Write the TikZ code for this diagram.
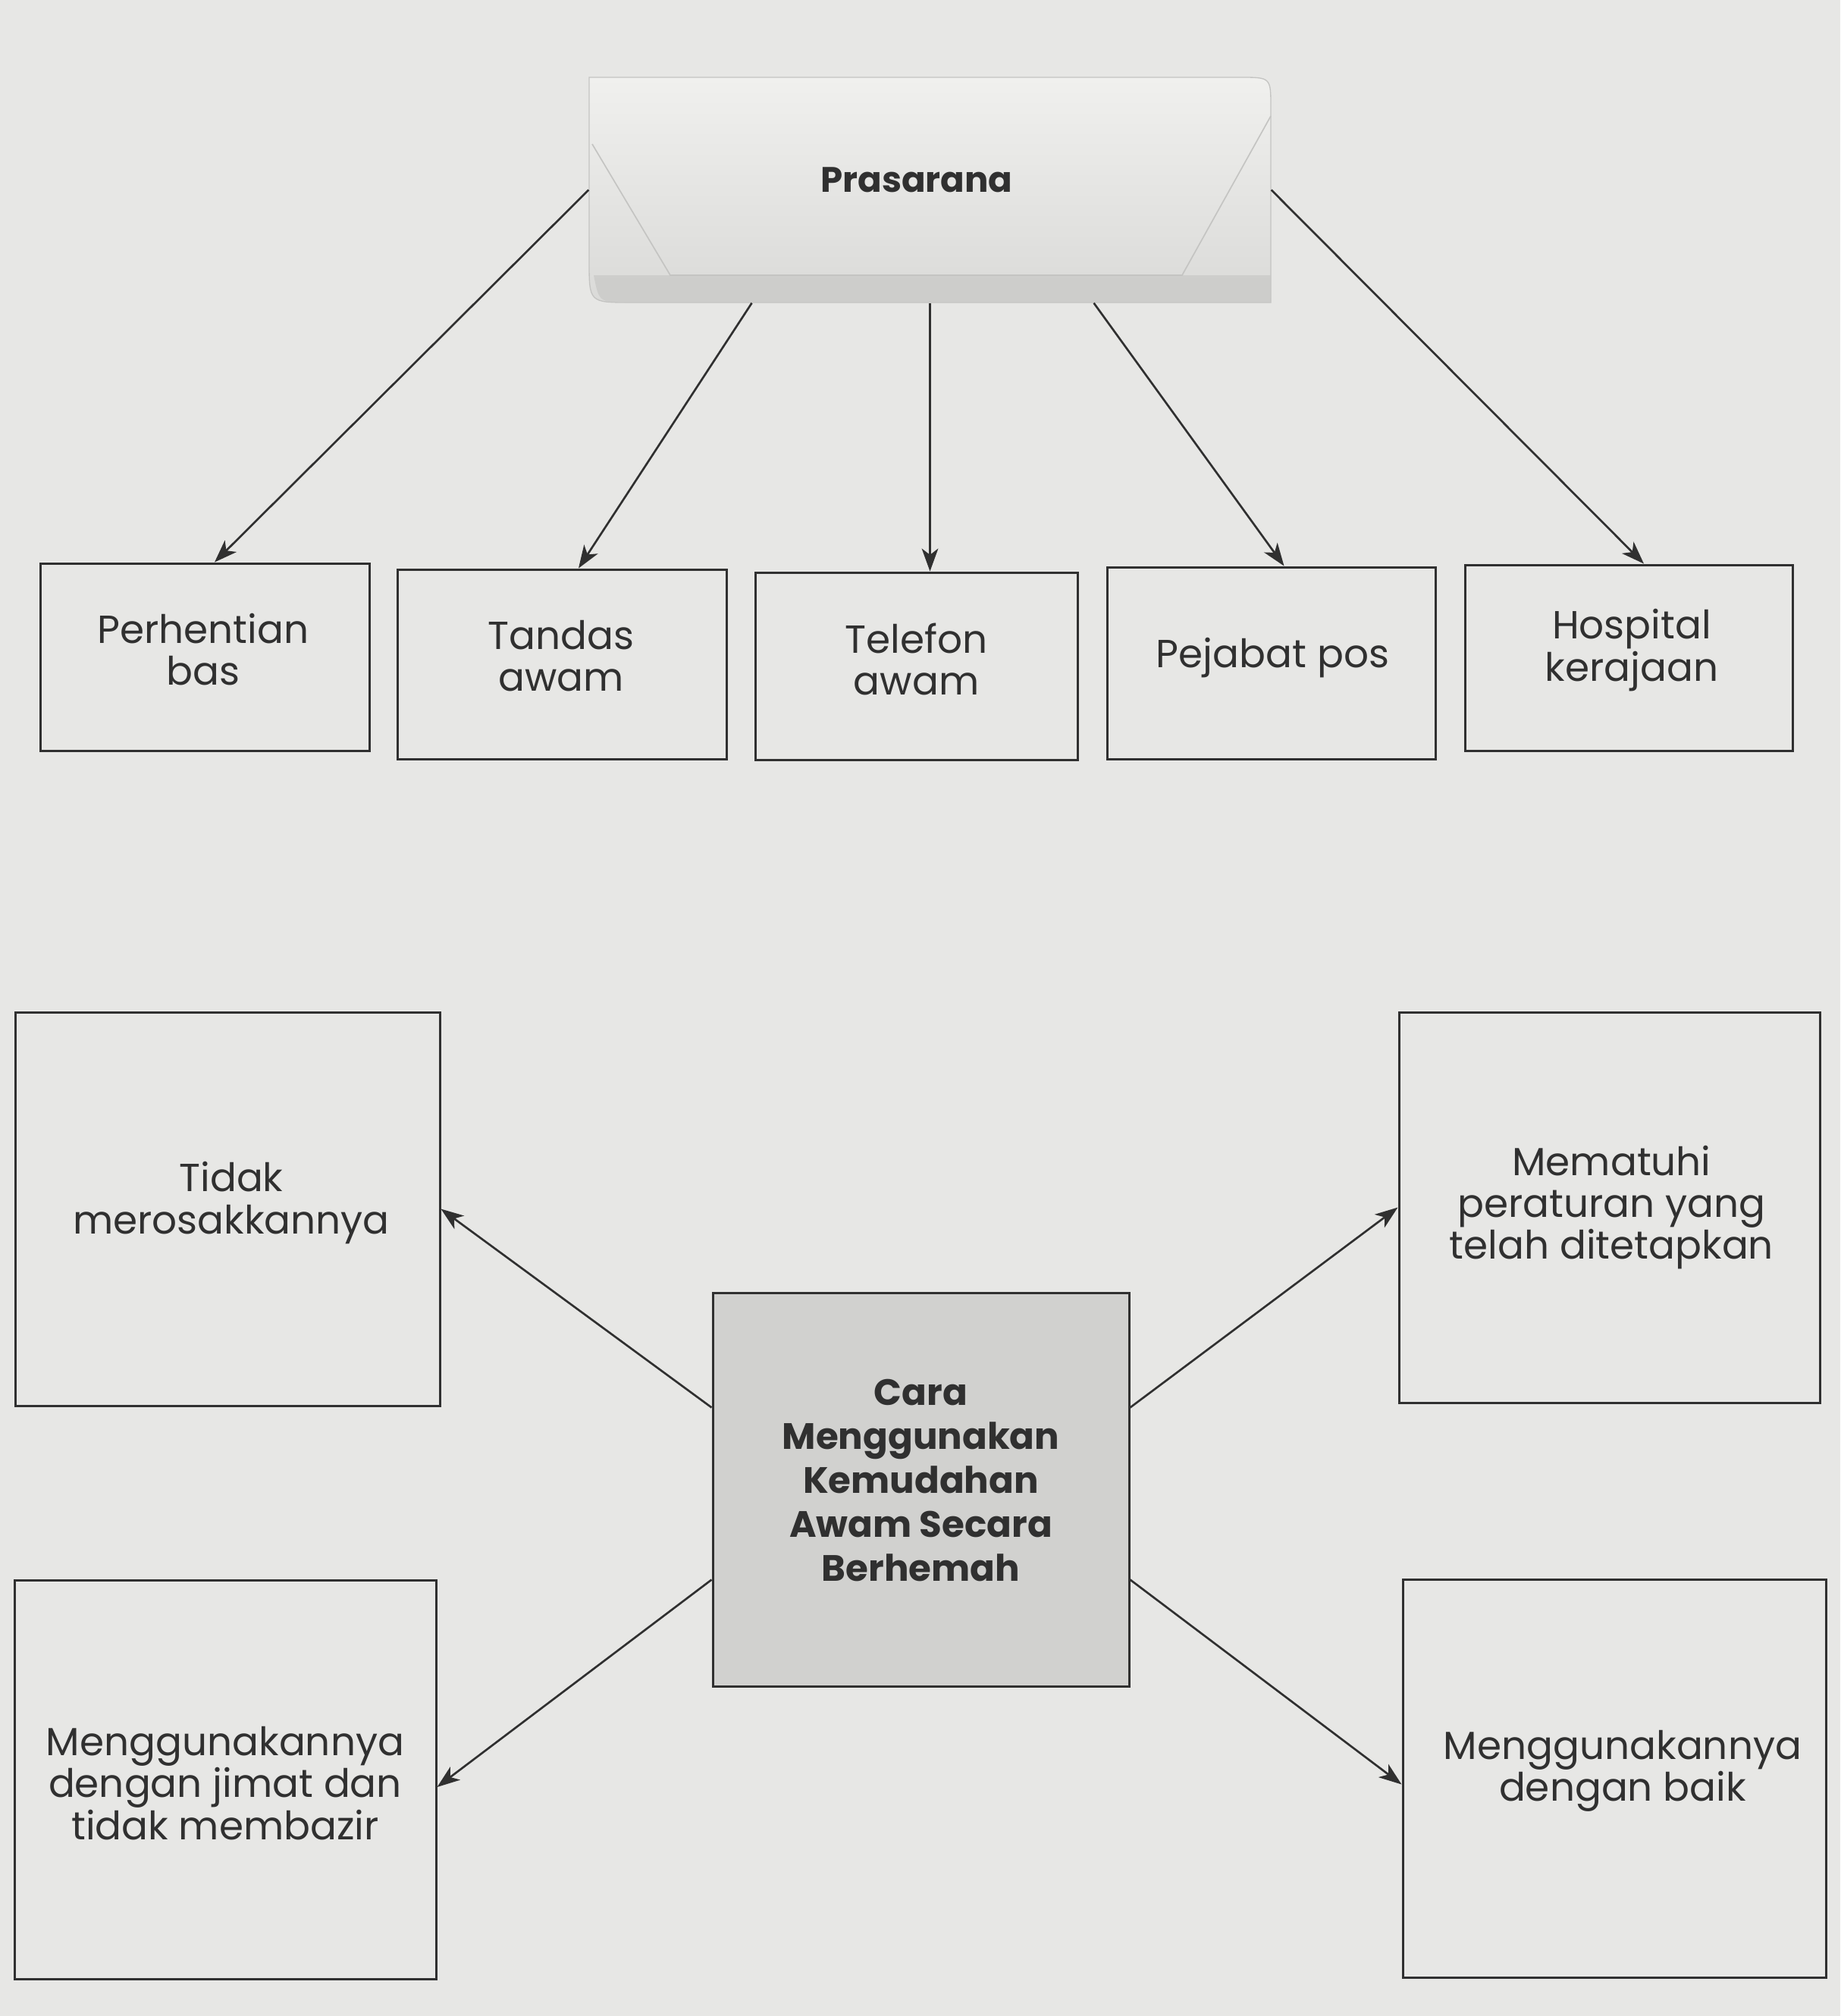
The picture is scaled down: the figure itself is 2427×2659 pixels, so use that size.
\documentclass[tikz,border=0pt]{standalone}
\usepackage{fontspec}
\setmainfont{Poppins}
\usetikzlibrary{arrows.meta,calc}
\definecolor{paper}{RGB}{231,231,229}
\definecolor{ink}{RGB}{48,48,48}
\definecolor{boxfill}{RGB}{209,209,207}
\definecolor{prtop}{RGB}{240,240,238}
\definecolor{prbot}{RGB}{218,218,216}
\definecolor{bevel}{RGB}{196,196,194}
\begin{document}
\begin{tikzpicture}[x=0.3pt,y=-0.3pt,
  sz/.style 2 args={minimum width=#1*0.3pt, minimum height=#2*0.3pt},
  leaf/.style={draw=ink, line width=0.9pt, fill=paper, inner sep=0pt},
  hub/.style={draw=ink, line width=0.9pt, fill=boxfill, inner sep=0pt},
  leaftext/.style={align=center, inner sep=0pt,
    font=\fontsize{15.5}{16.6}\selectfont, text=ink},
  hubtext/.style={align=center, inner sep=0pt,
    font=\bfseries\fontsize{14.5}{17.4}\selectfont, text=ink},
  conn/.style={draw=ink, line width=0.8pt, -{Stealth[length=9pt,width=6.5pt,inset=2.5pt]}},
]
% page
\fill[paper] (0,0) rectangle (2427,2659);
\useasboundingbox (0,0) rectangle (2427,2659);

% Prasarana button
\shade[top color=prtop, bottom color=prbot, draw=bevel, line width=0.4pt]
  (777,102) -- (1636,102) .. controls (1676,102) .. (1676,142) -- (1676,399)
  -- (832,399) .. controls (777,399) .. (777,344) -- cycle;
\fill[bevel!80!prbot, opacity=0.7]
  (884,363) -- (1559,363) -- (1676,363) -- (1676,399) -- (832,399)
  .. controls (790,399) .. (783,363) -- cycle;
\draw[bevel, line width=0.5pt] (781,190) -- (884,363) -- (1559,363) -- (1676,153);
\node[sz={899}{297}, inner sep=0pt] (pras) at (1226.5,250.5) {};
\node[font=\bfseries\fontsize{14}{17}\selectfont, text=ink, inner sep=0pt]
  (prastext) at (1209,237) {Prasarana};

% top row
\node[leaf, sz={434}{247}] (perh) at (270,866.5) {};
\node[leaf, sz={434}{250}] (tand) at (741,876) {};
\node[leaf, sz={425}{247}] (tele) at (1208.5,878.5) {};
\node[leaf, sz={433}{253}] (peja) at (1676.5,874.5) {};
\node[leaf, sz={432}{245}] (hosp) at (2148,867.5) {};
\node[leaftext] (perht) at ($(perh.center)+(-2,-10)$) {Perhentian\\bas};
\node[leaftext] (tandt) at ($(tand.center)+(-1,-11)$) {Tandas\\awam};
\node[leaftext] (telet) at ($(tele.center)+(0,-9)$) {Telefon\\awam};
\node[leaftext] (pejat) at ($(peja.center)+(2,-7)$) {Pejabat pos};
\node[leaftext] (hospt) at ($(hosp.center)+(4,-10)$) {Hospital\\kerajaan};

\draw[conn] (pras.west) -- ($(perh.north)+(13,0)$);
\draw[conn] ($(pras.south west)!0.239!(pras.south east)$) -- ($(tand.north)+(22,0)$);
\draw[conn] (pras.south) -- ($(tele.north)+(18,0)$);
\draw[conn] ($(pras.south west)!0.74!(pras.south east)$) -- ($(peja.north)+(17,0)$);
\draw[conn] (pras.east) -- ($(hosp.north)+(20,0)$);

% bottom part
\node[hub, sz={549}{519}] (cara) at (1214.5,1964.5) {};
\node[leaf, sz={560}{519}] (tidak) at (300,1594.5) {};
\node[leaf, sz={555}{515}] (mema) at (2122.5,1592.5) {};
\node[leaf, sz={556}{526}] (jimat) at (297,2347) {};
\node[leaf, sz={558}{525}] (baik) at (2129,2345.5) {};
\node[hubtext] (carat) at ($(cara.center)+(0,-12)$)
  {Cara\\Menggunakan\\Kemudahan\\Awam Secara\\Berhemah};
\node[leaftext] (tidakt) at ($(tidak.center)+(5,-8)$) {Tidak\\merosakkannya};
\node[leaftext] (memat) at ($(mema.center)+(3,0)$) {Mematuhi\\peraturan yang\\telah ditetapkan};
\node[leaftext] (jimatt) at ($(jimat.center)+(0,5)$) {Menggunakannya\\dengan jimat dan\\tidak membazir};
\node[leaftext] (baikt) at ($(baik.center)+(11,-10)$) {Menggunakannya\\dengan baik};

\draw[conn] ($(cara.north west)!0.293!(cara.south west)$) -- (tidak.east);
\draw[conn] ($(cara.north east)!0.293!(cara.south east)$) -- (mema.west);
\draw[conn] ($(cara.north west)!0.728!(cara.south west)$) -- ($(jimat.east)+(0,10)$);
\draw[conn] ($(cara.north east)!0.728!(cara.south east)$) -- ($(baik.west)+(0,8)$);
\end{tikzpicture}
\end{document}
